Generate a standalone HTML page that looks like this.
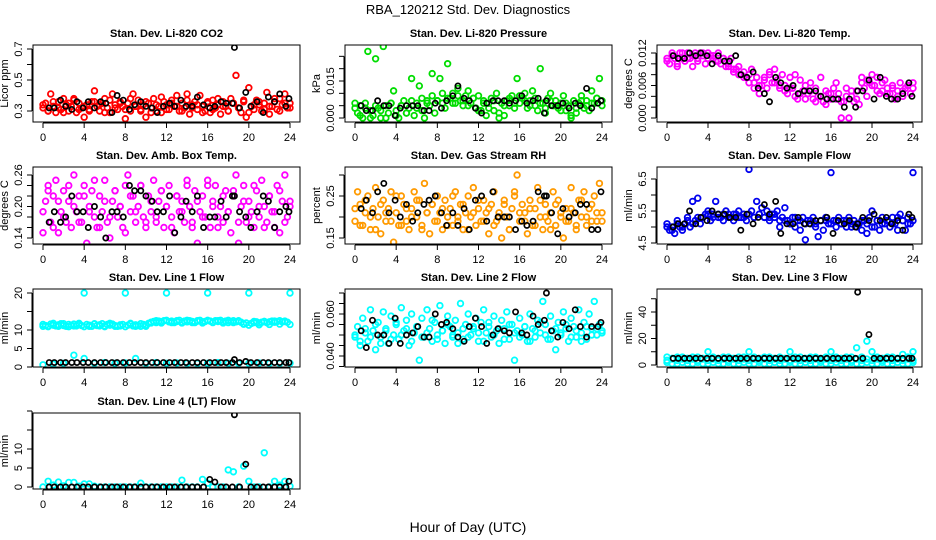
<!DOCTYPE html>
<html><head><meta charset="utf-8">
<style>
html,body{margin:0;padding:0;background:#fff;}
svg{display:block;font-family:"Liberation Sans",Arial,sans-serif;}
</style></head>
<body>
<svg id="chart" width="936" height="540" viewBox="0 0 936 540" xmlns="http://www.w3.org/2000/svg">
<rect width="936" height="540" fill="#fff"/>
<text x="468" y="14" font-size="13" text-anchor="middle">RBA_120212  Std. Dev. Diagnostics</text>
<text x="468" y="532" font-size="14" text-anchor="middle">Hour of Day (UTC)</text>
</svg>
<script>
const xTicks = [0,4,8,12,16,20,24];
const blackHours = [0.6,1.1,1.7,2.2,2.8,3.3,3.9,4.4,5.0,5.6,6.1,6.7,7.2,7.8,8.4,8.9,9.5,10.0,10.6,11.1,11.7,12.3,12.8,13.4,13.9,14.5,15.0,15.6,16.2,16.7,17.3,17.8,18.4,18.6,19.1,19.7,20.2,20.8,21.4,21.9,22.5,23.0,23.6,23.9];

const co2Vals = [0.32,0.35,0.30,0.41,0.33,0.29,0.36,0.31,0.38,0.34,0.30,0.33,0.37,0.29,0.35,0.32,0.26,0.34,0.31,0.36,0.43,0.33,0.30,0.35,0.38,0.32,0.29,0.41,0.34,0.31,0.36,0.33,0.25,0.35,0.30,0.41,0.33,0.37,0.31,0.34,0.26,0.35,0.32,0.38,0.30,0.33,0.29,0.36,0.34,0.31,0.37,0.33,0.40,0.30,0.35,0.32,0.41,0.28,0.34,0.36,0.31,0.40,0.33,0.30,0.35,0.29,0.37,0.32,0.34,0.28,0.36,0.33,0.30,0.38,0.35,0.53,0.32,0.29,0.36,0.26,0.45,0.33,0.31,0.37,0.34,0.30,0.35,0.42,0.28,0.33,0.36,0.31,0.38,0.34,0.41,0.32,0.35];
const co2ValsB = [0.34,0.30,0.36,0.32,0.29,0.35,0.38,0.31,0.33,0.30,0.36,0.34,0.29,0.37,0.32,0.35,0.31,0.38,0.33,0.30,0.36,0.29,0.34,0.39,0.31,0.35,0.33,0.30,0.37,0.32,0.34,0.29,0.36,0.31,0.38,0.33,0.30,0.35,0.32,0.37,0.29,0.34,0.36,0.31,0.33,0.38,0.30,0.35,0.32];
const co2Black = [0.32,0.32,0.37,0.33,0.31,0.36,0.32,0.36,0.32,0.36,0.35,0.29,0.40,0.37,0.31,0.34,0.36,0.33,0.32,0.29,0.33,0.35,0.33,0.37,0.33,0.33,0.39,0.34,0.32,0.33,0.36,0.35,0.35,0.71,0.32,0.42,0.33,0.36,0.29,0.39,0.36,0.41,0.33,0.38];

const presVals = [0.004,0.002,0.005,0.000,0.006,0.027,0.003,0.001,0.024,0.004,0.000,0.029,0.005,0.002,0.006,0.011,0.003,0.000,0.005,0.007,0.002,0.004,0.016,0.001,0.006,0.013,0.003,0.000,0.007,0.005,0.018,0.002,0.007,0.016,0.006,0.004,0.022,0.008,0.010,0.006,0.012,0.007,0.005,0.009,0.011,0.006,0.008,0.004,0.009,0.003,0.007,0.001,0.006,0.008,0.003,0.010,0.000,0.006,0.001,0.007,0.005,0.009,0.004,0.016,0.006,0.008,0.010,0.004,0.007,0.011,0.005,0.003,0.020,0.006,0.002,0.008,0.010,0.005,0.007,0.004,0.006,0.009,0.003,0.005,0.000,0.007,0.002,0.006,0.009,0.004,0.007,0.003,0.011,0.006,0.008,0.016,0.005];
const presValsB = [0.006,0.001,0.004,0.000,0.005,0.003,0.000,0.006,0.001,0.005,0.002,0.007,0.004,0.008,0.006,0.009,0.007,0.010,0.008,0.006,0.009,0.007,0.005,0.008,0.003,0.006,0.004,0.007,0.002,0.005,0.008,0.006,0.009,0.007,0.005,0.008,0.006,0.004,0.007,0.005,0.003,0.006,0.001,0.004,0.007,0.005,0.006,0.008,0.007];
const presBlack = [0.005,0.003,0.003,0.007,0.005,0.005,0.001,0.004,0.005,0.005,0.005,0.003,0.003,0.006,0.004,0.007,0.009,0.013,0.008,0.007,0.004,0.002,0.006,0.007,0.007,0.007,0.006,0.007,0.009,0.006,0.007,0.008,0.002,0.007,0.005,0.005,0.006,0.004,0.006,0.005,0.012,0.004,0.006,0.007];

const tempVals = [0.011,0.010,0.012,0.011,0.0095,0.012,0.011,0.0105,0.012,0.011,0.0095,0.012,0.011,0.012,0.0115,0.010,0.012,0.0115,0.011,0.0105,0.012,0.010,0.011,0.0095,0.010,0.011,0.0085,0.009,0.0095,0.008,0.0085,0.0075,0.008,0.009,0.0065,0.0075,0.0045,0.006,0.007,0.0055,0.0085,0.0065,0.009,0.007,0.0055,0.008,0.006,0.0045,0.0075,0.0055,0.008,0.0035,0.007,0.005,0.006,0.0045,0.0065,0.0035,0.0055,0.004,0.0075,0.003,0.005,0.0045,0.0035,0.0055,0.0065,0.0045,0.000,0.003,0.0055,0.000,0.004,0.003,0.005,0.0025,0.0075,0.0055,0.004,0.0065,0.008,0.006,0.005,0.0045,0.0065,0.007,0.0055,0.0045,0.006,0.0035,0.005,0.0065,0.004,0.0055,0.006,0.0045,0.0065];
const tempValsB = [0.0105,0.0115,0.010,0.012,0.011,0.0115,0.0105,0.012,0.011,0.0115,0.0105,0.011,0.0095,0.009,0.008,0.0075,0.0065,0.0055,0.006,0.0075,0.008,0.0065,0.006,0.005,0.0055,0.004,0.0045,0.0035,0.005,0.003,0.004,0.0025,0.0045,0.0035,0.003,0.004,0.005,0.0035,0.0065,0.007,0.006,0.0075,0.005,0.0045,0.0055,0.004,0.005,0.006,0.0055];
const tempBlack = [0.0115,0.011,0.011,0.012,0.0115,0.012,0.0115,0.010,0.0115,0.0105,0.0105,0.0115,0.008,0.0075,0.0085,0.0055,0.0045,0.003,0.0075,0.0065,0.0055,0.006,0.0045,0.005,0.005,0.005,0.004,0.0035,0.0035,0.0035,0.002,0.0035,0.002,0.005,0.005,0.007,0.0035,0.0075,0.004,0.0035,0.0035,0.0045,0.0065,0.004];

const ambVals = [0.15,0.21,0.24,0.17,0.22,0.25,0.15,0.19,0.23,0.17,0.21,0.16,0.26,0.19,0.22,0.17,0.24,0.13,0.20,0.23,0.18,0.16,0.22,0.19,0.25,0.17,0.14,0.21,0.23,0.18,0.20,0.16,0.24,0.26,0.19,0.22,0.17,0.20,0.24,0.18,0.16,0.22,0.19,0.25,0.17,0.21,0.23,0.16,0.20,0.24,0.18,0.15,0.22,0.19,0.21,0.17,0.24,0.20,0.16,0.23,0.13,0.19,0.22,0.18,0.25,0.16,0.21,0.24,0.18,0.20,0.17,0.23,0.19,0.15,0.22,0.26,0.13,0.20,0.24,0.17,0.21,0.19,0.16,0.23,0.18,0.25,0.20,0.17,0.22,0.19,0.16,0.24,0.15,0.21,0.26,0.18,0.20];
const ambValsB = [0.19,0.23,0.16,0.21,0.18,0.24,0.20,0.17,0.22,0.19,0.25,0.16,0.21,0.18,0.23,0.20,0.15,0.22,0.19,0.24,0.17,0.21,0.18,0.23,0.20,0.16,0.22,0.19,0.25,0.17,0.21,0.18,0.24,0.20,0.16,0.22,0.19,0.23,0.17,0.21,0.18,0.24,0.20,0.16,0.22,0.19,0.23,0.17,0.21];
const ambBlack = [0.17,0.19,0.17,0.18,0.22,0.19,0.19,0.16,0.20,0.18,0.14,0.19,0.19,0.18,0.24,0.23,0.23,0.22,0.21,0.19,0.19,0.22,0.15,0.18,0.21,0.19,0.22,0.16,0.18,0.18,0.21,0.18,0.22,0.22,0.19,0.18,0.16,0.19,0.22,0.21,0.16,0.19,0.20,0.19];

const rhVals = [0.19,0.26,0.23,0.18,0.21,0.25,0.17,0.22,0.27,0.20,0.16,0.24,0.19,0.22,0.26,0.14,0.21,0.18,0.25,0.23,0.19,0.17,0.22,0.26,0.20,0.24,0.18,0.28,0.21,0.16,0.23,0.19,0.25,0.21,0.17,0.24,0.20,0.22,0.18,0.26,0.19,0.23,0.17,0.21,0.25,0.20,0.27,0.18,0.22,0.19,0.24,0.21,0.16,0.23,0.26,0.19,0.21,0.15,0.24,0.20,0.17,0.22,0.26,0.30,0.19,0.23,0.21,0.16,0.24,0.18,0.22,0.27,0.20,0.17,0.23,0.19,0.21,0.26,0.18,0.24,0.20,0.15,0.22,0.19,0.27,0.21,0.17,0.24,0.20,0.26,0.18,0.22,0.19,0.25,0.21,0.28,0.19];
const rhValsB = [0.22,0.18,0.24,0.20,0.17,0.23,0.21,0.19,0.25,0.18,0.22,0.20,0.24,0.17,0.21,0.23,0.19,0.22,0.18,0.25,0.20,0.23,0.17,0.21,0.24,0.19,0.22,0.18,0.20,0.23,0.17,0.25,0.21,0.19,0.22,0.18,0.24,0.20,0.17,0.23,0.21,0.19,0.22,0.18,0.24,0.20,0.23,0.19,0.21];
const rhBlack = [0.22,0.24,0.21,0.26,0.28,0.21,0.24,0.20,0.23,0.19,0.21,0.23,0.24,0.25,0.21,0.18,0.21,0.18,0.22,0.17,0.24,0.25,0.19,0.26,0.20,0.20,0.20,0.17,0.19,0.18,0.19,0.26,0.25,0.25,0.21,0.16,0.22,0.20,0.21,0.23,0.23,0.17,0.17,0.26];

const flowVals = [5.1,4.9,5.0,4.8,5.2,5.0,4.9,5.1,5.3,5.0,5.8,5.2,5.9,5.1,5.3,5.4,5.5,5.2,5.3,5.8,5.4,5.3,5.2,5.5,5.4,5.3,5.2,5.4,5.5,5.3,5.4,5.2,6.8,5.5,5.3,5.8,5.4,5.6,5.3,5.5,5.2,5.4,5.3,5.5,5.0,5.3,5.6,5.2,5.1,5.3,5.0,5.2,4.9,5.3,4.6,5.2,5.1,5.3,5.0,4.7,5.2,4.9,5.3,5.1,6.7,5.2,5.0,5.3,5.1,5.2,5.0,5.3,5.1,5.2,5.0,5.1,4.9,5.2,4.8,5.3,5.5,5.0,5.2,4.9,5.3,5.1,5.2,5.0,5.3,5.1,4.9,5.4,5.2,4.9,5.3,5.1,6.7];
const flowValsB = [5.0,4.9,5.1,5.0,5.2,5.1,5.3,5.3,5.4,5.4,5.3,5.4,5.3,5.4,5.3,5.3,5.4,5.3,5.4,5.3,5.3,5.4,5.2,5.2,5.1,5.3,5.2,5.1,5.2,5.1,5.2,5.2,5.1,5.2,5.1,5.2,5.0,5.1,5.2,5.1,5.0,5.2,5.1,5.2,5.1,5.3,5.2,5.1,5.2];
const flowBlack = [5.0,5.1,5.1,5.5,5.1,5.3,5.2,5.5,5.4,5.4,5.3,5.3,4.9,5.4,5.1,5.3,5.7,5.4,5.8,4.8,5.1,5.1,5.3,5.1,5.1,5.2,5.2,5.3,4.8,5.2,5.1,5.2,5.0,5.1,5.3,5.2,5.4,5.2,5.3,5.1,5.2,4.9,5.4,5.3];

const line1Vals = [11.5,11.2,11.0,11.6,11.3,11.1,11.4,11.7,11.2,11.0,11.5,11.3,11.6,11.1,11.4,11.2,20,11.5,11.3,11.0,11.6,11.2,11.4,11.7,11.1,11.5,11.3,11.6,11.2,11.0,11.4,11.5,20,11.3,11.6,11.1,11.4,11.2,11.0,11.5,11.3,11.8,12.1,12.3,12.0,12.4,12.2,12.5,20,12.2,12.4,12.0,12.3,12.6,12.1,12.4,12.2,12.5,12.3,12.0,12.4,12.6,12.2,12.3,20,12.4,12.1,12.5,12.3,12.6,12.2,12.4,12.0,12.3,12.5,12.2,12.4,12.1,11.6,11.9,20,11.8,12.0,12.2,11.9,12.1,12.3,12.0,12.2,12.4,12.1,12.3,12.5,12.2,12.4,12.1,20];
const line1ValsB = [11.0,10.9,11.8,11.0,11.7,10.9,11.1,11.8,10.9,11.0,11.7,11.1,10.9,11.8,11.0,11.1,10.9,11.8,11.0,11.7,11.0,11.9,12.5,11.9,12.6,12.0,12.5,11.9,12.6,12.0,12.5,11.9,12.6,12.0,12.5,11.9,12.6,12.0,12.5,11.6,11.3,12.3,11.4,12.3,11.5,12.4,11.6,12.3,11.5];
const line1Low = [0.6,0.8,1.0,3.2,2.3,1.0,1.2,1.0,1.1,2.3,1.0,1.2,1.0,1.1,1.0,1.0,1.0,1.2,1.0,1.0,1.0,1.1,1.0,1.0,1.0];
const line1Black = [1.2,1.2,1.2,1.2,1.2,1.2,1.2,1.2,1.2,1.2,1.2,1.2,1.2,1.2,1.2,1.2,1.2,1.2,1.2,1.2,1.2,1.2,1.2,1.2,1.2,1.2,1.2,1.2,1.2,1.2,1.2,1.2,1.2,2.0,1.2,1.5,1.2,1.2,1.2,1.2,1.2,1.2,1.2,1.2];

const line2Vals = [0.049,0.054,0.045,0.058,0.051,0.047,0.062,0.052,0.043,0.056,0.049,0.061,0.053,0.046,0.059,0.050,0.055,0.048,0.063,0.052,0.057,0.045,0.060,0.051,0.054,0.038,0.058,0.049,0.062,0.053,0.047,0.056,0.050,0.064,0.052,0.046,0.059,0.054,0.049,0.057,0.051,0.065,0.048,0.055,0.060,0.050,0.053,0.058,0.047,0.056,0.062,0.051,0.054,0.049,0.059,0.052,0.046,0.057,0.053,0.061,0.048,0.055,0.038,0.052,0.058,0.050,0.054,0.047,0.060,0.053,0.049,0.057,0.051,0.066,0.055,0.048,0.059,0.052,0.043,0.056,0.050,0.061,0.053,0.047,0.058,0.054,0.049,0.062,0.051,0.056,0.048,0.060,0.053,0.066,0.050,0.055,0.052];
const line2ValsB = [0.050,0.047,0.053,0.049,0.055,0.046,0.052,0.048,0.056,0.050,0.053,0.047,0.054,0.049,0.051,0.057,0.048,0.052,0.055,0.050,0.046,0.053,0.049,0.054,0.051,0.047,0.056,0.050,0.053,0.048,0.055,0.051,0.049,0.054,0.047,0.052,0.056,0.050,0.048,0.053,0.051,0.055,0.049,0.052,0.047,0.054,0.050,0.053,0.051];
const line2Black = [0.052,0.044,0.057,0.050,0.050,0.046,0.058,0.046,0.050,0.051,0.054,0.049,0.049,0.060,0.055,0.056,0.053,0.049,0.047,0.054,0.058,0.054,0.046,0.050,0.053,0.052,0.051,0.061,0.051,0.050,0.059,0.055,0.057,0.070,0.052,0.049,0.056,0.053,0.062,0.054,0.049,0.054,0.054,0.056];

const line3A = [6,5,6,6,5,6,6,5,10,6,5,6,6,5,6,6,10,6,5,6,6,5,6,5,10,6,6,5,6,6,5,6,10,6,5,6,6,13,6,18,10,6,5,6,6,5,8,6,10];
const line3B = [2,1,1,2,1,1,2,1,1,2,1,1,2,1,1,2,1,1,2,1,1,2,1,1,2,1,1,2,1,1,2,1,1,2,1,1,2,1,1,2,1,1,2,1,1,2,1,1,2];
const line3C = [3.5,4.5,3.5,4.5,3.5,4.5,3.5,4.5,3.5,4.5,3.5,4.5,3.5,4.5,3.5,4.5,3.5,4.5,3.5,4.5,3.5,4.5,3.5,4.5,3.5,4.5,3.5,4.5,3.5,4.5,3.5,4.5,3.5,4.5,3.5,4.5,3.5,4.5,3.5,4.5,3.5,4.5,3.5,4.5,3.5,4.5,3.5,4.5,3.5];
const line3Black = [5,5,5,5,5,5,5,5,5,5,5,5,5,5,5,5,5,5,5,5,5,5,5,5,5,5,5,5,5,5,5,5,5,55,5,23,5,5,5,5,5,5,5,5];

const line4Vals = [0,1.5,0.5,1.3,0.3,1.2,1.2,0.2,0.8,0.8,0.2,0,0,0,0,0,0,0,0,1.0,0,0,0,0,0,0,0,1.8,0,0,0,2.0,1.0,0,0,0,4.5,4.0,0,5.5,1.5,0,0,9.0,0,1.5,0.5,1.5,0.2];
const line4Black = [0,0,0,0,0,0,0,0,0,0,0,0,0,0,0,0,0,0,0,0,0,0,0,0,0,0,0,0,2.0,1.3,0,0,0,19,0,6,0,0,0,0,0,0,0,1.5];

const svg = document.getElementById('chart');
const NS = 'http://www.w3.org/2000/svg';
function mk(tag, attrs, parent){
  const e = document.createElementNS(NS, tag);
  for (const k in attrs) e.setAttribute(k, attrs[k]);
  (parent||svg).appendChild(e);
  return e;
}
const cols = [{l:33,r:300,x0:43,x1:290},{l:345,r:612,x0:355,x1:602},{l:657,r:922,x0:667,x1:913}];
const rows = [{t:45,b:122},{t:167,b:244},{t:289,b:367},{t:413,b:489}];

const panels = [
 {key:'co2',title:'Stan. Dev. Li-820 CO2',ylab:'Licor ppm',c:0,r:0,y0v:0.3,y0p:111,y1v:0.7,y1p:49,ticks:[0.3,0.4,0.5,0.6,0.7],labels:['0.3','','0.5','','0.7'],color:'#ff0000',series:[co2Vals,co2ValsB],black:co2Black},
 {key:'pressure',title:'Stan. Dev. Li-820 Pressure',ylab:'kPa',c:1,r:0,y0v:0,y0p:118,y1v:0.015,y1p:81,ticks:[0,0.005,0.010,0.015,0.020,0.025],labels:['0.000','','','0.015','',''],color:'#00dd00',series:[presVals,presValsB],black:presBlack},
 {key:'temp',title:'Stan. Dev. Li-820 Temp.',ylab:'degrees C',c:2,r:0,y0v:0,y0p:118,y1v:0.012,y1p:53,ticks:[0,0.002,0.004,0.006,0.008,0.010,0.012],labels:['0.000','','','0.006','','','0.012'],color:'#ff00ff',series:[tempVals,tempValsB],black:tempBlack},
 {key:'amb',title:'Stan. Dev. Amb. Box Temp.',ylab:'degrees C',c:0,r:1,y0v:0.14,y0p:238,y1v:0.26,y1p:175,ticks:[0.14,0.16,0.18,0.20,0.22,0.24,0.26],labels:['0.14','','','0.20','','','0.26'],color:'#ff00ff',series:[ambVals,ambValsB],black:ambBlack},
 {key:'rh',title:'Stan. Dev. Gas Stream RH',ylab:'percent',c:1,r:1,y0v:0.15,y0p:238,y1v:0.25,y1p:196,ticks:[0.15,0.20,0.25,0.30],labels:['0.15','','0.25',''],color:'#ff9a00',series:[rhVals,rhValsB],black:rhBlack},
 {key:'flow',title:'Stan. Dev. Sample Flow',ylab:'ml/min',c:2,r:1,y0v:4.5,y0p:243,y1v:6.5,y1p:179,ticks:[4.5,5.0,5.5,6.0,6.5],labels:['4.5','','5.5','','6.5'],color:'#0000ee',series:[flowVals,flowValsB],black:flowBlack},
 {key:'line1',title:'Stan. Dev. Line 1 Flow',ylab:'ml/min',c:0,r:2,y0v:0,y0p:367,y1v:20,y1p:293,ticks:[0,5,10,15,20],labels:['0','5','10','','20'],color:'#00ffff',series:[line1Vals,line1ValsB,line1Low],black:line1Black},
 {key:'line2',title:'Stan. Dev. Line 2 Flow',ylab:'ml/min',c:1,r:2,y0v:0.040,y0p:356,y1v:0.060,y1p:314,ticks:[0.035,0.040,0.045,0.050,0.055,0.060,0.065,0.070],labels:['','0.040','','','','0.060','',''],color:'#00ffff',series:[line2Vals,line2ValsB],black:line2Black},
 {key:'line3',title:'Stan. Dev. Line 3 Flow',ylab:'ml/min',c:2,r:2,y0v:0,y0p:365,y1v:40,y1p:312,ticks:[0,10,20,30,40,50],labels:['0','','20','','40',''],color:'#00ffff',series:[line3A,line3B,line3C],black:line3Black},
 {key:'line4',title:'Stan. Dev. Line 4 (LT) Flow',ylab:'ml/min',c:0,r:3,y0v:0,y0p:487,y1v:10,y1p:449,ticks:[0,5,10,15,20],labels:['0','5','10','',''],color:'#00ffff',series:[line4Vals],black:line4Black}
];

panels.forEach(p => {
  const col = cols[p.c], row = rows[p.r];
  const g = mk('g', {});
  
  
  const xs = h => col.x0 + (h/24)*(col.x1-col.x0);
  const ys = v => p.y0p + (v-p.y0v)*(p.y1p-p.y0p)/(p.y1v-p.y0v);
  const clip = 'clip-' + p.key;
  const cp = mk('clipPath', {id: clip}, g);
  mk('rect', {x: col.l, y: row.t, width: col.r-col.l, height: row.b-row.t}, cp);
  const t = mk('text', {x:(col.l+col.r)/2, y: row.t-8, 'font-size':11, 'font-weight':'bold', 'text-anchor':'middle'}, g);
  t.textContent = p.title;
  
  
  const pts = mk('g', {'clip-path':'url(#'+clip+')', fill:'none'}, g);
  
  
  p.series.forEach(arr => {
    arr.forEach((v,i) => {
      const c = mk('circle', {cx: xs(i*24/(arr.length-1)), cy: ys(v), r: 2.8, stroke: p.color, 'stroke-width': 1.8}, pts);
      
      
    });
  });
  p.black.forEach((v,i) => {
    const c = mk('circle', {cx: xs(blackHours[i]), cy: ys(v), r: 2.6, stroke: '#000', 'stroke-width': 1.7}, pts);
    
    
  });
  const box = mk('rect', {x: col.l, y: row.t, width: col.r-col.l, height: row.b-row.t, fill:'none', stroke:'#000', 'stroke-width':1}, g);
  
  
  const xa = mk('g', {stroke:'#000', 'stroke-width':1}, g);
  
  
  mk('line', {x1: xs(xTicks[0]), x2: xs(xTicks[xTicks.length-1]), y1: row.b+1, y2: row.b+1}, xa);
  xTicks.forEach(h => {
    mk('line', {x1: xs(h), x2: xs(h), y1: row.b+1, y2: row.b+6}, xa);
    const tl = mk('text', {x: xs(h), y: row.b+19, 'font-size':11, 'text-anchor':'middle', stroke:'none'}, xa);
    tl.textContent = h;
    
    
  });
  const ya = mk('g', {stroke:'#000', 'stroke-width':1}, g);
  
  
  const ax = col.l - 1;
  mk('line', {x1: ax, x2: ax, y1: ys(p.ticks[0]), y2: ys(p.ticks[p.ticks.length-1])}, ya);
  p.ticks.forEach((v,i) => {
    mk('line', {x1: ax-5, x2: ax, y1: ys(v), y2: ys(v)}, ya);
    if (p.labels[i]) {
      const ly = ys(v), lx = col.l - 11;
      const tl = mk('text', {x: lx, y: ly, 'font-size':11, 'text-anchor':'middle', stroke:'none', transform:'rotate(-90 '+lx+' '+ly+')'}, ya);
      tl.textContent = p.labels[i];
      
      
    }
  });
  const yx = col.l - 25, yy = (row.t+row.b)/2;
  const yt = mk('text', {x: yx, y: yy, 'font-size':11, 'text-anchor':'middle', transform:'rotate(-90 '+yx+' '+yy+')'}, g);
  yt.textContent = p.ylab;
  
  
});
</script>
</body></html>
